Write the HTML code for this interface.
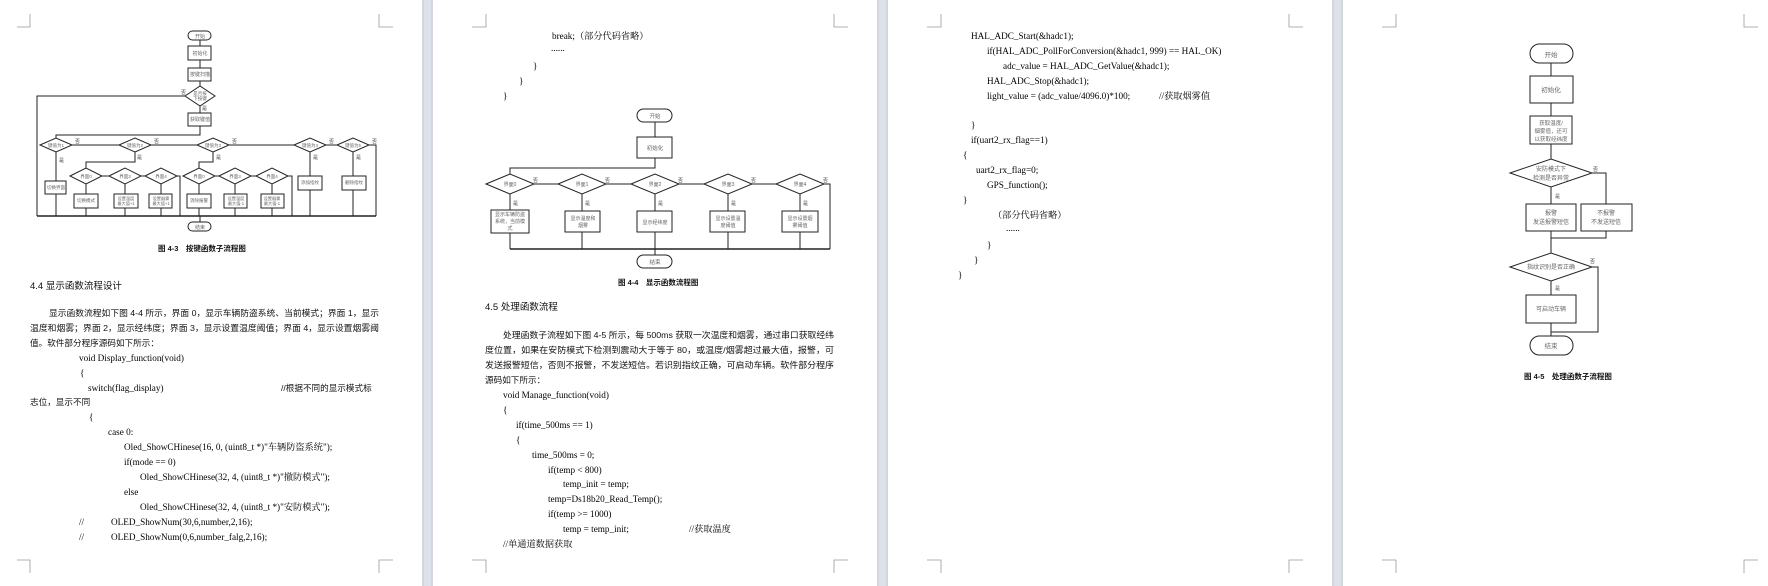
<!DOCTYPE html>
<html><head><meta charset="utf-8"><style>
body{margin:0;background:#fff}
svg{display:block}
.n{font-family:"Liberation Sans","Noto Sans CJK SC",sans-serif;fill:#666;text-anchor:middle}
.c{font-family:"Liberation Serif","Noto Serif CJK SC",serif;font-size:9.2px;fill:#000}
.p{font-family:"Liberation Sans","Noto Sans CJK SC",sans-serif;font-size:8.6px;fill:#111}
.h{font-family:"Liberation Sans","Noto Sans CJK SC",sans-serif;font-size:9.5px;fill:#111}
.cap{font-family:"Liberation Sans","Noto Sans CJK SC",sans-serif;font-size:7.5px;font-weight:bold;fill:#111}
.l{fill:none;stroke:#222;stroke-width:1}
.b{fill:#fff;stroke:#222;stroke-width:1}
.yn{font-family:"Liberation Sans","Noto Sans CJK SC",sans-serif;font-size:5px;fill:#444}
</style></head><body>
<svg width="1768" height="586" viewBox="0 0 1768 586" xmlns="http://www.w3.org/2000/svg">
<rect width="1768" height="586" fill="#fff"/>
<rect x="422" y="0" width="11" height="586" fill="#dde2e8"/>
<rect x="877" y="0" width="11" height="586" fill="#dde2e8"/>
<rect x="1332" y="0" width="11" height="586" fill="#dde2e8"/>
<g stroke="#c8ccd2" stroke-width="1">
<line x1="423" y1="0" x2="423" y2="586"/><line x1="432" y1="0" x2="432" y2="586"/>
<line x1="878" y1="0" x2="878" y2="586"/><line x1="887" y1="0" x2="887" y2="586"/>
<line x1="1333" y1="0" x2="1333" y2="586"/><line x1="1342" y1="0" x2="1342" y2="586"/>
</g>
<g stroke="#999" stroke-width="0.8" fill="none">
<path d="M17 27H30V14M379 14V27H393M17 560H30V573M379 573V560H393"/>
<path d="M472 27H486V14M834 14V27H848M472 560H486V573M834 573V560H848"/>
<path d="M927 27H941V14M1289 14V27H1303M927 560H941V573M1289 573V560H1303"/>
<path d="M1382 27H1396V14M1744 14V27H1758M1382 560H1396V573M1744 573V560H1758"/>
</g>

<g>
<rect class="b" x="188" y="31" width="23" height="9" rx="4.5"/>
<text class="n" x="200" y="38" font-size="5">开始</text>
<line class="l" x1="200" y1="40" x2="200" y2="46"/>
<rect class="b" x="188" y="46" width="23" height="14"/>
<text class="n" x="200" y="55" font-size="5">初始化</text>
<line class="l" x1="200" y1="60" x2="200" y2="68"/>
<rect class="b" x="188" y="68" width="23" height="13"/>
<text class="n" x="200" y="76" font-size="5">按键扫描</text>
<line class="l" x1="200" y1="81" x2="200" y2="86"/>
<polygon class="b" points="185,96 200,86 215,96 200,106"/>
<text class="n" x="200" y="95" font-size="4.5">是否按</text><text class="n" x="200" y="100" font-size="4.5">下按键</text>
<text class="yn" x="181" y="94">否</text><text class="yn" x="202" y="110">是</text>
<path class="l" d="M185 96H37V216"/>
<line class="l" x1="200" y1="106" x2="200" y2="113"/>
<rect class="b" x="188" y="113" width="23" height="13"/>
<text class="n" x="200" y="121" font-size="5">获取键值</text>
<path class="l" d="M200 126V135H56V138"/>
<path class="l" d="M72 145H119M151 145H197M229 145H294M326 145H337M369 145H376V216"/>
<polygon class="b" points="40,145 56,138 72,145 56,152"/>
<polygon class="b" points="119,145 135,138 151,145 135,152"/>
<polygon class="b" points="197,145 213,138 229,145 213,152"/>
<polygon class="b" points="294,145 310,138 326,145 310,152"/>
<polygon class="b" points="337,145 353,138 369,145 353,152"/>
<text class="n" x="56" y="147" font-size="4.5">键值为1</text>
<text class="n" x="135" y="147" font-size="4.5">键值为2</text>
<text class="n" x="213" y="147" font-size="4.5">键值为3</text>
<text class="n" x="310" y="147" font-size="4.5">键值为4</text>
<text class="n" x="353" y="147" font-size="4.5">键值为5</text>
<text class="yn" x="75" y="143">否</text><text class="yn" x="154" y="143">否</text><text class="yn" x="232" y="143">否</text><text class="yn" x="329" y="143">否</text><text class="yn" x="372" y="143">否</text>
<text class="yn" x="59" y="162">是</text><text class="yn" x="137" y="159">是</text><text class="yn" x="216" y="159">是</text><text class="yn" x="313" y="159">是</text><text class="yn" x="356" y="159">是</text>
<path class="l" d="M56 152V181M56 194V216"/>
<rect class="b" x="45" y="181" width="21" height="13"/>
<text class="n" x="56" y="189" font-size="4.5">切换界面</text>
<path class="l" d="M135 152V162H86V168"/>
<path class="l" d="M102 176H109M141 176H145M177 176H180V216"/>
<polygon class="b" points="70,176 86,168 102,176 86,184"/>
<polygon class="b" points="109,176 125,168 141,176 125,184"/>
<polygon class="b" points="145,176 161,168 177,176 161,184"/>
<text class="n" x="86" y="178" font-size="4.5">界面0</text><text class="n" x="125" y="178" font-size="4.5">界面3</text><text class="n" x="161" y="178" font-size="4.5">界面4</text>
<path class="l" d="M86 184V194M125 184V194M161 184V194M86 208V216M125 208V216M161 208V216"/>
<rect class="b" x="74" y="194" width="24" height="14"/><rect class="b" x="114" y="194" width="24" height="14"/><rect class="b" x="149" y="194" width="23" height="14"/>
<text class="n" x="86" y="202" font-size="4.5">切换模式</text>
<text class="n" x="126" y="200" font-size="4.2">设置温度</text><text class="n" x="126" y="205" font-size="4.2">最大值+1</text>
<text class="n" x="161" y="200" font-size="4.2">设置烟雾</text><text class="n" x="161" y="205" font-size="4.2">最大值+1</text>
<path class="l" d="M213 152V162H199V168"/>
<path class="l" d="M215 176H219M251 176H256M288 176H292V216"/>
<polygon class="b" points="183,176 199,168 215,176 199,184"/>
<polygon class="b" points="219,176 235,168 251,176 235,184"/>
<polygon class="b" points="256,176 272,168 288,176 272,184"/>
<text class="n" x="199" y="178" font-size="4.5">界面0</text><text class="n" x="235" y="178" font-size="4.5">界面3</text><text class="n" x="272" y="178" font-size="4.5">界面4</text>
<path class="l" d="M199 184V194M235 184V194M272 184V194M199 208V216M235 208V216M272 208V216"/>
<rect class="b" x="187" y="194" width="24" height="14"/><rect class="b" x="224" y="194" width="23" height="14"/><rect class="b" x="261" y="194" width="23" height="14"/>
<text class="n" x="199" y="202" font-size="4.5">消除报警</text>
<text class="n" x="236" y="200" font-size="4.2">设置温度</text><text class="n" x="236" y="205" font-size="4.2">最大值-1</text>
<text class="n" x="272" y="200" font-size="4.2">设置烟雾</text><text class="n" x="272" y="205" font-size="4.2">最大值-1</text>
<path class="l" d="M310 152V176M310 190V216M353 152V176M353 190V216"/>
<rect class="b" x="298" y="176" width="24" height="14"/><rect class="b" x="342" y="176" width="24" height="14"/>
<text class="n" x="310" y="184" font-size="4.5">添加指纹</text><text class="n" x="354" y="184" font-size="4.5">删除指纹</text>
<path d="M37 216H376" stroke="#222" stroke-width="1.5" fill="none"/>
<line class="l" x1="200" y1="216" x2="200" y2="222"/>
<rect class="b" x="188" y="222" width="23" height="9" rx="4.5"/>
<text class="n" x="200" y="229" font-size="5">结束</text>
</g>
<text class="cap" x="158" y="251">图 4-3　按键函数子流程图</text>
<text class="h" x="30" y="289">4.4 显示函数流程设计</text>
<text class="p" x="49" y="316" textLength="330" lengthAdjust="spacingAndGlyphs">显示函数流程如下图 4-4 所示，界面 0，显示车辆防盗系统、当前模式；界面 1，显示</text>
<text class="p" x="30" y="331" textLength="349" lengthAdjust="spacingAndGlyphs">温度和烟雾；界面 2，显示经纬度；界面 3，显示设置温度阈值；界面 4，显示设置烟雾阈</text>
<text class="p" x="30" y="346">值。软件部分程序源码如下所示：</text>
<g class="c">
<text x="79" y="361">void Display_function(void)</text>
<text x="80" y="376">{</text>
<text x="88" y="391">switch(flag_display)</text>
<text x="281" y="391" class="p">//根据不同的显示模式标</text>
<text x="30" y="405" class="p">志位，显示不同</text>
<text x="89" y="420">{</text>
<text x="108" y="435">case 0:</text>
<text x="124" y="450">Oled_ShowCHinese(16, 0, (uint8_t *)"车辆防盗系统");</text>
<text x="124" y="465">if(mode == 0)</text>
<text x="140" y="480">Oled_ShowCHinese(32, 4, (uint8_t *)"撤防模式");</text>
<text x="124" y="495">else</text>
<text x="140" y="510">Oled_ShowCHinese(32, 4, (uint8_t *)"安防模式");</text>
<text x="79" y="525">//</text><text x="111" y="525">OLED_ShowNum(30,6,number,2,16);</text>
<text x="79" y="540">//</text><text x="111" y="540">OLED_ShowNum(0,6,number_falg,2,16);</text>
</g>

<g class="c">
<text x="552" y="39">break;（部分代码省略）</text>
<text x="551" y="51">......</text>
<text x="533" y="69">}</text>
<text x="519" y="84">}</text>
<text x="503" y="99">}</text>
</g>
<g>
<rect class="b" x="637" y="109" width="35" height="13" rx="6.5"/>
<text class="n" x="655" y="118" font-size="5.5">开始</text>
<line class="l" x1="655" y1="122" x2="655" y2="137"/>
<rect class="b" x="637" y="137" width="35" height="21"/>
<text class="n" x="655" y="150" font-size="5.5">初始化</text>
<path class="l" d="M655 158V168H510V174"/>
<path class="l" d="M534 184H558M606 184H631M679 184H704M752 184H776M824 184H830V249"/>
<polygon class="b" points="486,184 510,174 534,184 510,194"/>
<polygon class="b" points="558,184 582,174 606,184 582,194"/>
<polygon class="b" points="631,184 655,174 679,184 655,194"/>
<polygon class="b" points="704,184 728,174 752,184 728,194"/>
<polygon class="b" points="776,184 800,174 824,184 800,194"/>
<text class="n" x="510" y="186" font-size="5">界面0</text><text class="n" x="582" y="186" font-size="5">界面1</text><text class="n" x="655" y="186" font-size="5">界面2</text><text class="n" x="728" y="186" font-size="5">界面3</text><text class="n" x="800" y="186" font-size="5">界面4</text>
<text class="yn" x="533" y="182">否</text><text class="yn" x="605" y="182">否</text><text class="yn" x="678" y="182">否</text><text class="yn" x="751" y="182">否</text><text class="yn" x="823" y="182">否</text>
<text class="yn" x="513" y="205">是</text><text class="yn" x="585" y="205">是</text><text class="yn" x="658" y="205">是</text><text class="yn" x="731" y="205">是</text><text class="yn" x="803" y="205">是</text>
<path class="l" d="M510 194V210M582 194V211M655 194V211M728 194V211M800 194V211M510 233V249M582 232V249M655 232V249M728 232V249M800 232V249"/>
<rect class="b" x="491" y="210" width="38" height="23"/>
<rect class="b" x="565" y="211" width="35" height="21"/>
<rect class="b" x="637" y="211" width="35" height="21"/>
<rect class="b" x="710" y="211" width="35" height="21"/>
<rect class="b" x="782" y="211" width="36" height="21"/>
<text class="n" x="510" y="216" font-size="5">显示车辆防盗</text><text class="n" x="510" y="223" font-size="5">系统，当前模</text><text class="n" x="510" y="230" font-size="5">式</text>
<text class="n" x="583" y="220" font-size="5">显示温度和</text><text class="n" x="583" y="227" font-size="5">烟雾</text>
<text class="n" x="655" y="224" font-size="5">显示经纬度</text>
<text class="n" x="728" y="220" font-size="5">显示设置温</text><text class="n" x="728" y="227" font-size="5">度阈值</text>
<text class="n" x="800" y="220" font-size="5">显示设置烟</text><text class="n" x="800" y="227" font-size="5">雾阈值</text>
<path d="M510 249H830" stroke="#222" stroke-width="1.4" fill="none"/>
<line class="l" x1="655" y1="249" x2="655" y2="255"/>
<rect class="b" x="637" y="255" width="35" height="13" rx="6.5"/>
<text class="n" x="655" y="264" font-size="5.5">结束</text>
</g>
<text class="cap" x="618" y="285">图 4-4　显示函数流程图</text>
<text class="h" x="485" y="310">4.5 处理函数流程</text>
<text class="p" x="503" y="338" textLength="331" lengthAdjust="spacingAndGlyphs">处理函数子流程如下图 4-5 所示，每 500ms 获取一次温度和烟雾，通过串口获取经纬</text>
<text class="p" x="485" y="353" textLength="349" lengthAdjust="spacingAndGlyphs">度位置，如果在安防模式下检测到震动大于等于 80，或温度/烟雾超过最大值，报警，可</text>
<text class="p" x="485" y="368" textLength="349" lengthAdjust="spacingAndGlyphs">发送报警短信，否则不报警，不发送短信。若识别指纹正确，可启动车辆。软件部分程序</text>
<text class="p" x="485" y="383">源码如下所示：</text>
<g class="c">
<text x="503" y="398">void Manage_function(void)</text>
<text x="503" y="413">{</text>
<text x="516" y="428">if(time_500ms == 1)</text>
<text x="516" y="443">{</text>
<text x="532" y="458">time_500ms = 0;</text>
<text x="548" y="473">if(temp &lt; 800)</text>
<text x="563" y="487">temp_init = temp;</text>
<text x="548" y="502">temp=Ds18b20_Read_Temp();</text>
<text x="548" y="517">if(temp &gt;= 1000)</text>
<text x="563" y="532">temp = temp_init;</text><text x="689" y="532">//获取温度</text>
<text x="503" y="547">//单通道数据获取</text>
</g>

<g class="c">
<text x="971" y="39">HAL_ADC_Start(&amp;hadc1);</text>
<text x="987" y="54">if(HAL_ADC_PollForConversion(&amp;hadc1, 999) == HAL_OK)</text>
<text x="1003" y="69">adc_value = HAL_ADC_GetValue(&amp;hadc1);</text>
<text x="987" y="84">HAL_ADC_Stop(&amp;hadc1);</text>
<text x="987" y="99">light_value = (adc_value/4096.0)*100;</text><text x="1159" y="99">//获取烟雾值</text>
<text x="971" y="128">}</text>
<text x="971" y="143">if(uart2_rx_flag==1)</text>
<text x="963" y="158">{</text>
<text x="976" y="173">uart2_rx_flag=0;</text>
<text x="987" y="188">GPS_function();</text>
<text x="963" y="203">}</text>
<text x="993" y="218">（部分代码省略）</text>
<text x="1006" y="231">......</text>
<text x="987" y="248">}</text>
<text x="974" y="263">}</text>
<text x="958" y="278">}</text>
</g>

<g>
<rect class="b" x="1530" y="44" width="43" height="19" rx="9.5"/>
<text class="n" x="1551" y="57" font-size="6.5">开始</text>
<line class="l" x1="1551" y1="63" x2="1551" y2="76"/>
<rect class="b" x="1530" y="76" width="43" height="27"/>
<text class="n" x="1551" y="92" font-size="6.5">初始化</text>
<line class="l" x1="1551" y1="103" x2="1551" y2="116"/>
<rect class="b" x="1530" y="116" width="42" height="28"/>
<text class="n" x="1551" y="125" font-size="5.5">获取温度/</text><text class="n" x="1551" y="133" font-size="5.5">烟雾值，还可</text><text class="n" x="1551" y="141" font-size="5.5">以获取经纬度</text>
<line class="l" x1="1551" y1="144" x2="1551" y2="159"/>
<polygon class="b" points="1510,173 1551,159 1592,173 1551,187"/>
<text class="n" x="1551" y="171" font-size="6">安防模式下</text><text class="n" x="1551" y="180" font-size="6">检测是否异常</text>
<text class="yn" x="1593" y="171" font-size="6">否</text>
<path class="l" d="M1592 173H1606V204"/>
<line class="l" x1="1551" y1="187" x2="1551" y2="204"/>
<text class="yn" x="1555" y="198" font-size="6">是</text>
<rect class="b" x="1526" y="204" width="50" height="27"/>
<rect class="b" x="1581" y="204" width="51" height="27"/>
<text class="n" x="1551" y="215" font-size="6">报警</text><text class="n" x="1551" y="224" font-size="6">发送报警短信</text>
<text class="n" x="1606" y="215" font-size="6">不报警</text><text class="n" x="1606" y="224" font-size="6">不发送短信</text>
<path class="l" d="M1606 231V238H1551M1551 231V253"/>
<polygon class="b" points="1510,267 1551,253 1592,267 1551,281"/>
<text class="n" x="1551" y="269" font-size="6">指纹识别是否正确</text>
<text class="yn" x="1590" y="263" font-size="6">否</text>
<path class="l" d="M1592 267H1598V332H1551"/>
<line class="l" x1="1551" y1="281" x2="1551" y2="295"/>
<text class="yn" x="1555" y="290" font-size="6">是</text>
<rect class="b" x="1526" y="295" width="50" height="28"/>
<text class="n" x="1551" y="311" font-size="6">可启动车辆</text>
<line class="l" x1="1551" y1="323" x2="1551" y2="336"/>
<rect class="b" x="1530" y="336" width="43" height="19" rx="9.5"/>
<text class="n" x="1551" y="348" font-size="6.5">结束</text>
</g>
<text class="cap" x="1524" y="379">图 4-5　处理函数子流程图</text>
</svg>
</body></html>
